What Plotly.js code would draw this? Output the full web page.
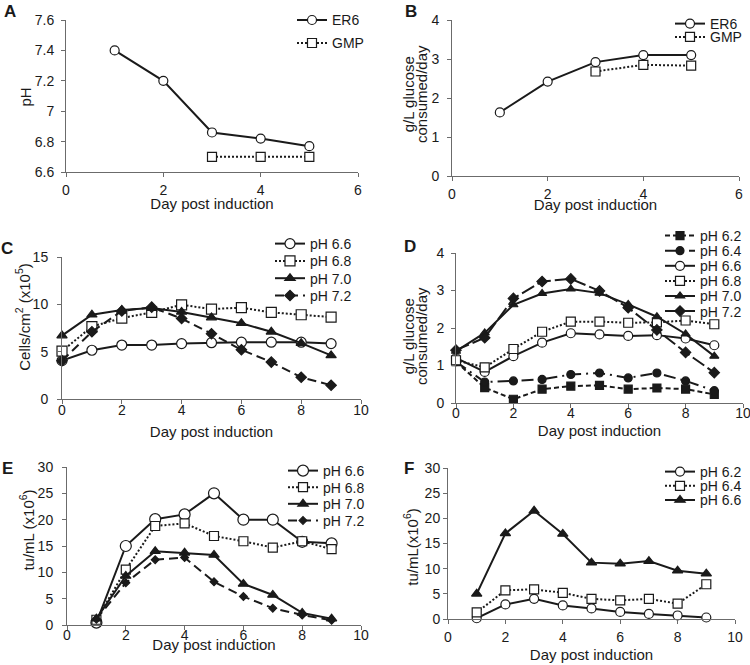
<!DOCTYPE html>
<html>
<head>
<meta charset="utf-8">
<script src="https://cdn.plot.ly/plotly-3.0.1.min.js"></script>
<style>html,body{margin:0;padding:0;background:#fff}#chart{width:750px;height:665px}</style>
</head>
<body>
<div id="chart"></div>
<script>
// ---------- data ----------
const daysA = [1, 2, 3, 4, 5];
const daysGMP = [3, 4, 5];
const phER6 = [7.40, 7.20, 6.86, 6.82, 6.77];
const phGMP = [6.70, 6.70, 6.70];
const glcER6 = [1.63, 2.42, 2.92, 3.10, 3.10];
const glcGMP = [2.68, 2.85, 2.83];

const daysC = [0, 1, 2, 3, 4, 5, 6, 7, 8, 9];
const cells66 = [4.05, 5.15, 5.70, 5.70, 5.85, 5.95, 6.00, 6.00, 6.00, 5.85];
const cells68 = [5.05, 7.65, 8.55, 9.15, 9.95, 9.50, 9.65, 9.15, 8.90, 8.65];
const cells70 = [6.70, 8.90, 9.40, 9.60, 9.20, 8.60, 8.00, 7.10, 5.90, 4.60];
const cells72 = [4.05, 7.10, 9.30, 9.70, 8.50, 6.90, 5.20, 3.90, 2.30, 1.45];

const glc62 = [1.10, 0.41, 0.10, 0.37, 0.45, 0.47, 0.37, 0.40, 0.37, 0.23];
const glc64 = [1.10, 0.56, 0.59, 0.63, 0.76, 0.80, 0.67, 0.80, 0.59, 0.33];
const glc66 = [1.20, 0.83, 1.25, 1.61, 1.86, 1.83, 1.79, 1.81, 1.72, 1.54];
const glc68 = [1.14, 0.95, 1.44, 1.90, 2.17, 2.17, 2.14, 2.15, 2.20, 2.10];
const glc70 = [1.38, 1.87, 2.62, 2.92, 3.04, 2.93, 2.63, 2.30, 1.84, 1.25];
const glc72 = [1.41, 1.74, 2.79, 3.24, 3.31, 2.99, 2.54, 1.95, 1.35, 0.81];

const daysE = [1, 2, 3, 4, 5, 6, 7, 8, 9];
const tuE66 = [0.45, 15.0, 20.1, 21.0, 25.0, 20.0, 20.0, 15.8, 15.5];
const tuE68 = [1.0, 10.5, 18.8, 19.3, 16.9, 15.9, 14.7, 15.9, 14.4];
const tuE70 = [1.2, 9.3, 14.0, 13.7, 13.3, 7.8, 5.7, 2.3, 1.2];
const tuE72 = [1.1, 8.0, 12.4, 12.8, 8.2, 5.4, 3.2, 1.9, 0.9];

const tuF62 = [0.15, 2.9, 4.0, 2.7, 2.1, 1.4, 1.0, 0.7, 0.3];
const tuF64 = [1.3, 5.7, 5.9, 5.2, 4.0, 3.7, 4.0, 3.05, 6.9];
const tuF66 = [5.0, 17.0, 21.5, 16.9, 11.2, 11.0, 11.5, 9.6, 9.0];

const xTitle = 'Day post induction';
const panelLetters = ['A', 'B', 'C', 'D', 'E', 'F'];

// ---------- styling ----------
const FONT = 'Liberation Sans, Arial, sans-serif';
const INK = '#1a1a1a';
const AXC = '#6b6b6b';
const OPEN = '#ffffff';
const DOT = '2px,2px';
const DASH = '9px,5px';
const SDASH = '5px,3px';
const LDASH = '14px,4px';
const DASHDOT = '12px,5px,2px,5px';

function tr(x, y, name, xa, ya, leg, sym, fill, dash, size) {
  return {
    type: 'scatter', mode: 'lines+markers', x: x, y: y, name: name,
    xaxis: xa, yaxis: ya, legend: leg, cliponaxis: false,
    line: {color: INK, width: 2, dash: dash},
    marker: {symbol: sym, size: size, color: fill, line: {color: INK, width: 1.2}}
  };
}

const data = [
  tr(daysA, phER6, 'ER6', 'x', 'y', 'legend', 'circle', OPEN, 'solid', 9),
  tr(daysGMP, phGMP, 'GMP', 'x', 'y', 'legend', 'square', OPEN, DOT, 9),
  tr(daysA, glcER6, 'ER6', 'x2', 'y2', 'legend2', 'circle', OPEN, 'solid', 9),
  tr(daysGMP, glcGMP, 'GMP', 'x2', 'y2', 'legend2', 'square', OPEN, DOT, 9),

  tr(daysC, cells66, 'pH 6.6', 'x3', 'y3', 'legend3', 'circle', OPEN, 'solid', 10),
  tr(daysC, cells68, 'pH 6.8', 'x3', 'y3', 'legend3', 'square', OPEN, DOT, 10),
  tr(daysC, cells70, 'pH 7.0', 'x3', 'y3', 'legend3', 'triangle-up', INK, 'solid', 9),
  tr(daysC, cells72, 'pH 7.2', 'x3', 'y3', 'legend3', 'diamond', INK, DASH, 8),

  tr(daysC, glc62, 'pH 6.2', 'x4', 'y4', 'legend4', 'square', INK, SDASH, 8),
  tr(daysC, glc64, 'pH 6.4', 'x4', 'y4', 'legend4', 'circle', INK, DASHDOT, 8),
  tr(daysC, glc66, 'pH 6.6', 'x4', 'y4', 'legend4', 'circle', OPEN, 'solid', 9),
  tr(daysC, glc68, 'pH 6.8', 'x4', 'y4', 'legend4', 'square', OPEN, DOT, 9),
  tr(daysC, glc70, 'pH 7.0', 'x4', 'y4', 'legend4', 'triangle-up', INK, 'solid', 8),
  tr(daysC, glc72, 'pH 7.2', 'x4', 'y4', 'legend4', 'diamond', INK, LDASH, 8),

  tr(daysE, tuE66, 'pH 6.6', 'x5', 'y5', 'legend5', 'circle', OPEN, 'solid', 11),
  tr(daysE, tuE68, 'pH 6.8', 'x5', 'y5', 'legend5', 'square', OPEN, DOT, 9),
  tr(daysE, tuE70, 'pH 7.0', 'x5', 'y5', 'legend5', 'triangle-up', INK, 'solid', 9),
  tr(daysE, tuE72, 'pH 7.2', 'x5', 'y5', 'legend5', 'diamond', INK, DASH, 6),

  tr(daysE, tuF62, 'pH 6.2', 'x6', 'y6', 'legend6', 'circle', OPEN, 'solid', 9),
  tr(daysE, tuF64, 'pH 6.4', 'x6', 'y6', 'legend6', 'square', OPEN, DOT, 9),
  tr(daysE, tuF66, 'pH 6.6', 'x6', 'y6', 'legend6', 'triangle-up', INK, 'solid', 9)
];

const W = 750, H = 665;
const px = v => v / W;
const py = v => 1 - v / H;

function xax(x0, x1, anchor, range, labelShift) {
  return {
    domain: [px(x0), px(x1)], anchor: anchor, range: range, dtick: 2,
    showline: true, linecolor: AXC, linewidth: 1, ticks: 'outside', ticklen: 4, tickcolor: AXC,
    ticklabelstandoff: labelShift, ticklabeloverflow: 'allow',
    showgrid: false, zeroline: false, tickfont: {family: FONT, size: 14, color: INK},
    title: {text: xTitle, font: {family: FONT, size: 15, color: INK}, standoff: 2},
    automargin: false, fixedrange: true
  };
}
function yax(y0, y1, anchor, range, dtick, title, labelShift) {
  return {
    domain: [py(y1), py(y0)], anchor: anchor, range: range, dtick: dtick,
    showline: true, linecolor: AXC, linewidth: 1, ticks: 'outside', ticklen: 4, tickcolor: AXC,
    ticklabelstandoff: labelShift, ticklabeloverflow: 'allow',
    showgrid: false, zeroline: false, tickfont: {family: FONT, size: 14, color: INK},
    title: {text: title, font: {family: FONT, size: 15, color: INK}, standoff: 4},
    automargin: false, fixedrange: true
  };
}

function leg(x, y) {
  return {x: px(x), y: py(y), xanchor: 'left', yanchor: 'top', bgcolor: 'rgba(0,0,0,0)',
    borderwidth: 0, font: {family: FONT, size: 14, color: INK}, tracegroupgap: 0};
}

// glyph centres of the panel letters
const letterPos = [[3, 12], [404, 12], [0, 248], [403, 246], [1, 468], [403, 468]];
const annotations = panelLetters.map((t, i) => ({
  text: '<b>' + t + '</b>', xref: 'paper', yref: 'paper', x: px(letterPos[i][0]), y: py(letterPos[i][1]),
  xanchor: 'left', yanchor: 'middle', showarrow: false, borderpad: 0,
  font: {family: FONT, size: 17, color: INK}
}));

const layout = {
  width: W, height: H, margin: {l: 0, r: 0, t: 0, b: 0},
  paper_bgcolor: '#fff', plot_bgcolor: 'rgba(0,0,0,0)',
  font: {family: FONT, color: INK}, showlegend: true,
  xaxis: xax(66, 358, 'y', [0, 6], 1),
  yaxis: yax(20, 172, 'x', [6.6, 7.6], 0.2, 'pH', 4),
  xaxis2: xax(452, 739, 'y2', [0, 6], 1),
  yaxis2: yax(20, 176, 'x2', [0, 4], 1, 'g/L glucose<br>consumed/day', 5),
  xaxis3: xax(62, 361, 'y3', [0, 10], 0),
  yaxis3: yax(257, 399, 'x3', [0, 15], 5, 'Cells/cm<sup>2</sup> (x10<sup>5</sup>)', 6),
  xaxis4: xax(456, 743, 'y4', [0, 10], 0),
  yaxis4: yax(253, 403, 'x4', [0, 4], 1, 'g/L glucose<br>consumed/day', 4),
  xaxis5: xax(67, 361, 'y5', [0, 10], 0),
  yaxis5: yax(467, 625, 'x5', [0, 30], 5, 'tu/mL (x10<sup>6</sup>)', 6),
  xaxis6: xax(448, 735, 'y6', [0, 10], 1),
  yaxis6: yax(468, 619, 'x6', [0, 30], 5, 'tu/mL(x10<sup>6</sup>)', 0),
  legend: leg(290, 8),
  legend2: leg(670, 8),
  legend3: leg(270, 228),
  legend4: leg(660, 220),
  legend5: leg(283, 455),
  legend6: leg(660, 456),
  annotations: annotations
};

// reference placement: [text left x, first row centre y, row spacing]
const legendPlace = {
  legend: [332, 20, 23], legend2: [708, 20, 13.3], legend3: [313, 240, 17.3],
  legend4: [705.5, 231.5, 15.1], legend5: [328.5, 467, 16.6], legend6: [705, 468.3, 14.2]
};
// reference centres of the axis titles: [x, y]
const yTitlePlace = {y: [25, 97], y2: [415, 94], y3: [23, 317], y4: [415, 336], y5: [27, 530], y6: [411, 547]};
const xTitlePlace = {x: 204, x2: 205, x3: 432, x4: 430.5, x5: 645, x6: 654.5};
// reference centres of the x tick labels (these panels sit closer to their axes)
const xTickPlace = {x3: 410.5, x4: 413, x5: 635.5};

function box(el) {
  const c = document.getElementById('chart').getBoundingClientRect();
  const r = el.getBoundingClientRect();
  return {l: r.left - c.left, t: r.top - c.top, cx: (r.left + r.right) / 2 - c.left, cy: (r.top + r.bottom) / 2 - c.top};
}
function shift(g, dx, dy) {
  const t = g.getAttribute('transform') || '';
  g.setAttribute('transform', 'translate(' + dx + ',' + dy + ') ' + t);
}

function finish() {
  const root = document.getElementById('chart');
  Object.keys(legendPlace).forEach(id => {
    const g = root.querySelector('g.' + id);
    if (!g) return;
    const [tx, ty, gap] = legendPlace[id];
    const items = g.querySelectorAll('g.traces');
    let y0 = null;
    items.forEach((it, i) => {
      const m = (it.getAttribute('transform') || '').match(/translate\(\s*([-\d.]+)[ ,]+([-\d.]+)\s*\)/);
      if (!m) return;
      if (y0 === null) y0 = parseFloat(m[2]);
      it.setAttribute('transform', 'translate(' + parseFloat(m[1]) + ',' + (y0 + i * gap) + ')');
    });
    if (!items.length) return;
    const txt = items[0].querySelector('text.legendtext');
    const pt = items[0].querySelector('path.scatterpts') || items[0].querySelector('path.js-line');
    if (!txt || !pt) return;
    shift(g, tx - box(txt).l, ty - box(pt).cy);
  });
  Object.keys(xTickPlace).forEach(id => {
    const ticks = root.querySelectorAll('g.' + id + 'tick');
    ticks.forEach(tk => {
      const t = tk.querySelector('text');
      if (!t) return;
      shift(tk, 0, xTickPlace[id] - box(t).cy);
    });
  });
  Object.keys(yTitlePlace).forEach(id => {
    const g = root.querySelector('g.g-' + id + 'title');
    if (!g) return;
    const t = g.querySelector('text');
    if (!t) return;
    const lines = t.querySelectorAll('tspan.line');
    lines.forEach((l, i) => { if (i > 0) l.setAttribute('dy', '0.9em'); });
    const b = box(t);
    shift(g, yTitlePlace[id][0] - b.cx, yTitlePlace[id][1] - b.cy);
  });
  Object.keys(xTitlePlace).forEach(id => {
    const g = root.querySelector('g.g-' + id + 'title');
    if (!g) return;
    const t = g.querySelector('text');
    if (!t) return;
    shift(g, 0, xTitlePlace[id] - box(t).cy);
  });
}

Plotly.newPlot('chart', data, layout, {staticPlot: true, displayModeBar: false}).then(finish);
</script>
</body>
</html>
